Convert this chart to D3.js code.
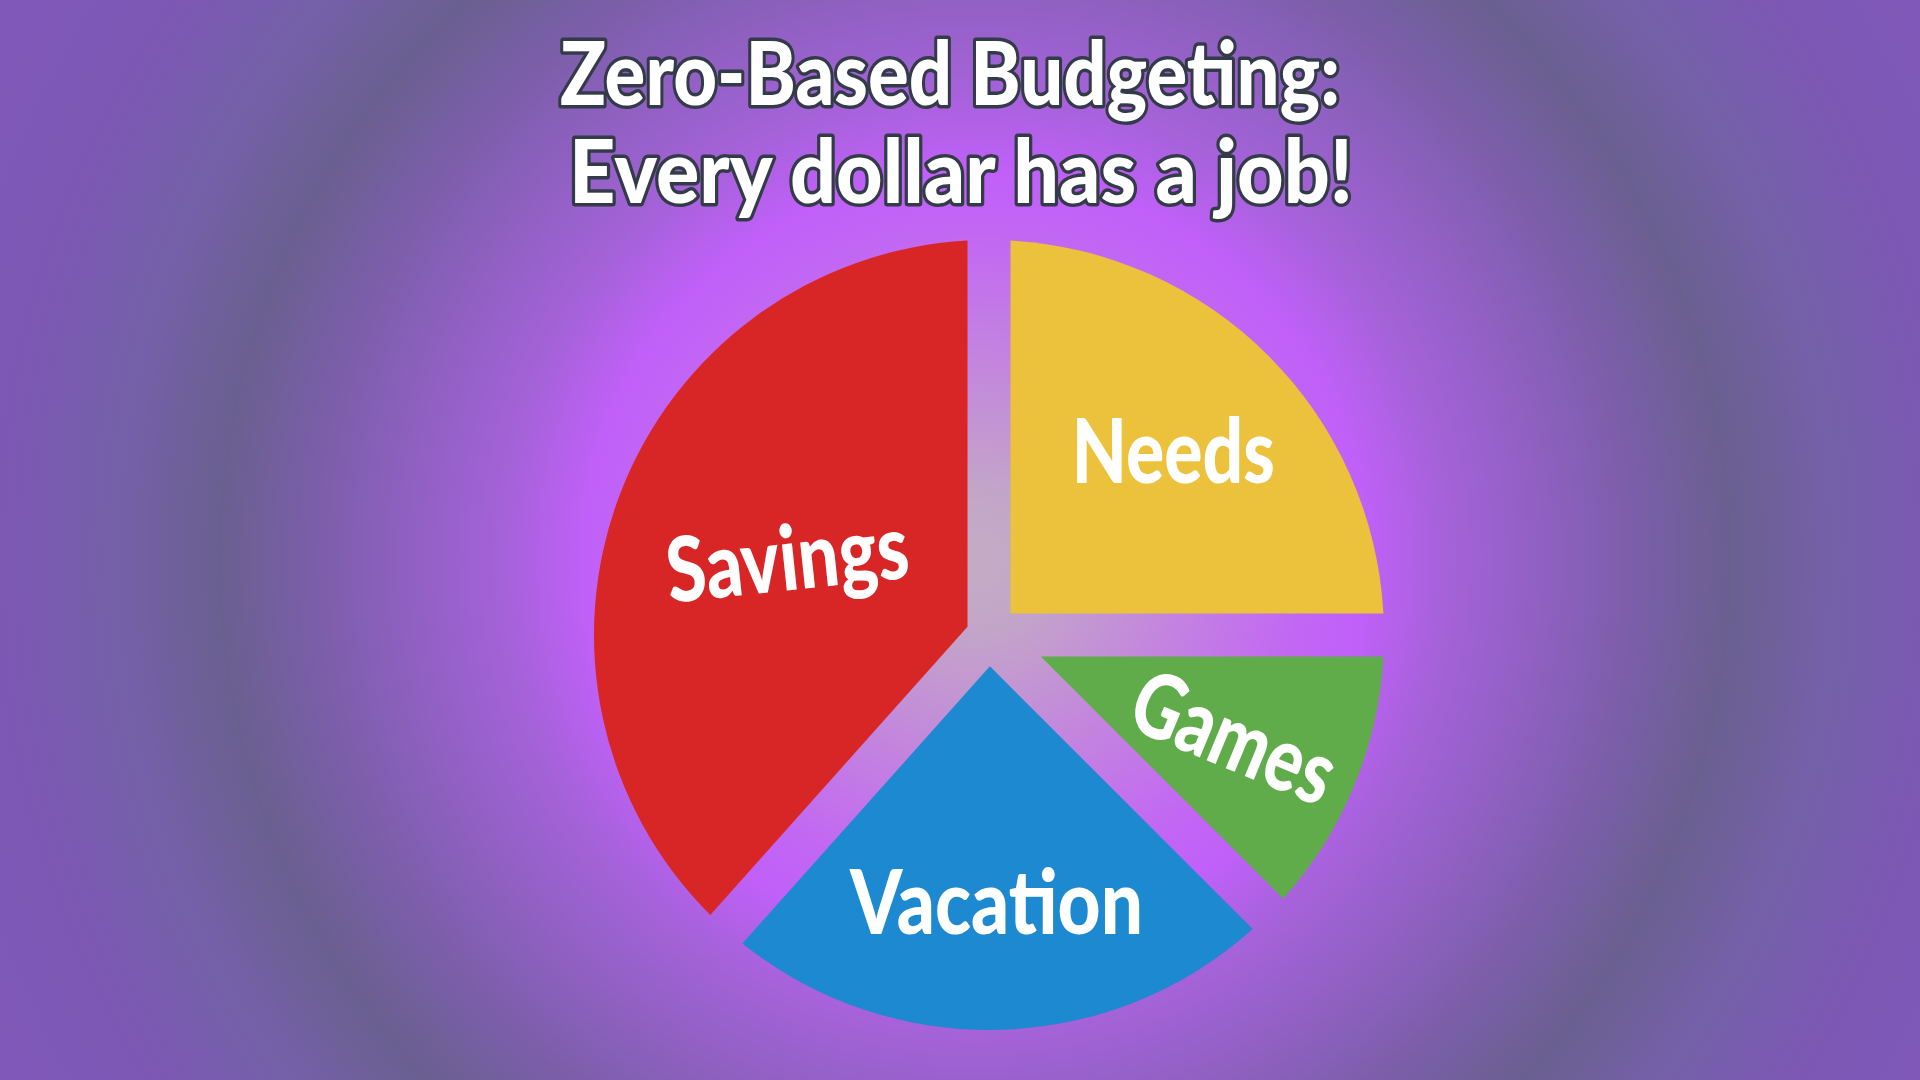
<!DOCTYPE html>
<html><head><meta charset="utf-8">
<script src="https://cdn.jsdelivr.net/npm/d3@7"></script>
<style>html,body{margin:0;padding:0;background:#7c58b4;overflow:hidden}</style>
</head><body>
<svg id="chart" width="1920" height="1080"></svg>
<script>
// ---- data ----
const categories = ["Needs", "Games", "Vacation", "Savings"];
const shares = [25, 12.5, 24.1, 38.4];
const sliceColors = ["#ecc23c", "#60ac4a", "#1d89d0", "#d82525"];
const titleLines = ["Zero-Based Budgeting:", "Every dollar has a job!"];

// ---- style / layout ----
const W = 1920, H = 1080;
const pieCfg = { cx: 989, cy: 635, r: 395, gap: 43 };
const labelCfg = {
  font: "Lato, 'Open Sans', sans-serif", size: 90, weight: 900,
  radiusFrac: [0.66, 0.672, 0.676, 0.547],
  rotate: [0, 22.5, 0, -6],
  width: [203, 212, 293, 243]
};
const titleCfg = {
  font: "Lato, 'Open Sans', sans-serif", size: 87, weight: 900,
  x: [950, 961], y: [105, 203], width: [780, 784],
  fill: "#ffffff", stroke: "#333a48", strokeWidth: 7
};
const bgStops = [
  [0, "#c3adc3"], [80, "#c3a3ca"], [200, "#c385de"], [330, "#c266f4"],
  [390, "#c060f8"], [475, "#a462d8"], [575, "#8e60c0"], [665, "#7a5ea8"],
  [755, "#6a6090"], [855, "#7460a8"], [975, "#7c58b4"], [1150, "#8258bc"]
];
const bgCenter = [975, 560], bgR = 1150;

const svg = d3.select("#chart");
const defs = svg.append("defs");
const grad = defs.append("radialGradient").attr("id", "bg")
  .attr("gradientUnits", "userSpaceOnUse")
  .attr("cx", bgCenter[0]).attr("cy", bgCenter[1]).attr("r", bgR)
  .attr("fx", bgCenter[0]).attr("fy", bgCenter[1]);
grad.selectAll("stop").data(bgStops).join("stop")
  .attr("offset", d => d[0] / bgR).attr("stop-color", d => d[1]);
svg.append("rect").attr("width", W).attr("height", H).attr("fill", "url(#bg)");

// ---- pie ----
const pie = d3.pie().sort(null).value(d => d.value);
const arcs = pie(categories.map((c, i) => ({ name: c, value: shares[i], color: sliceColors[i], i })));

const R = pieCfg.r, half = pieCfg.gap / 2;
function slicePath(d) {
  const a0 = d.startAngle, a1 = d.endAngle, mid = (a0 + a1) / 2;
  const corner = d3.pointRadial(mid, half / Math.sin((a1 - a0) / 2));
  const da = Math.asin(half / R);
  const s = d3.pointRadial(a0 + da, R);
  const p = d3.path();
  p.moveTo(corner[0], corner[1]);
  p.lineTo(s[0], s[1]);
  p.arc(0, 0, R, a0 + da - Math.PI / 2, a1 - da - Math.PI / 2, false);
  p.closePath();
  return p.toString();
}

const g = svg.append("g").attr("transform", `translate(${pieCfg.cx},${pieCfg.cy})`);
g.selectAll("path.slice").data(arcs).join("path")
  .attr("class", "slice").attr("d", slicePath).attr("fill", d => d.data.color);

g.selectAll("text.label").data(arcs).join("text")
  .attr("class", "label")
  .attr("transform", d => {
    const mid = (d.startAngle + d.endAngle) / 2;
    const [x, y] = d3.pointRadial(mid, R * labelCfg.radiusFrac[d.data.i]);
    return `translate(${x},${y}) rotate(${labelCfg.rotate[d.data.i]})`;
  })
  .attr("text-anchor", "middle").attr("dy", "0.36em")
  .attr("font-family", labelCfg.font).attr("font-size", labelCfg.size)
  .attr("font-weight", labelCfg.weight).attr("fill", "#ffffff")
  .attr("textLength", d => labelCfg.width[d.data.i])
  .attr("lengthAdjust", "spacingAndGlyphs")
  .text(d => d.data.name);

// ---- title ----
svg.selectAll("text.title").data(titleLines).join("text")
  .attr("class", "title")
  .attr("x", (d, i) => titleCfg.x[i]).attr("y", (d, i) => titleCfg.y[i])
  .attr("text-anchor", "middle")
  .attr("font-family", titleCfg.font).attr("font-size", titleCfg.size)
  .attr("font-weight", titleCfg.weight)
  .attr("fill", titleCfg.fill).attr("stroke", titleCfg.stroke)
  .attr("stroke-width", titleCfg.strokeWidth).attr("stroke-linejoin", "round")
  .attr("paint-order", "stroke")
  .attr("textLength", (d, i) => titleCfg.width[i])
  .attr("lengthAdjust", "spacingAndGlyphs")
  .text(d => d);
</script>
</body></html>
